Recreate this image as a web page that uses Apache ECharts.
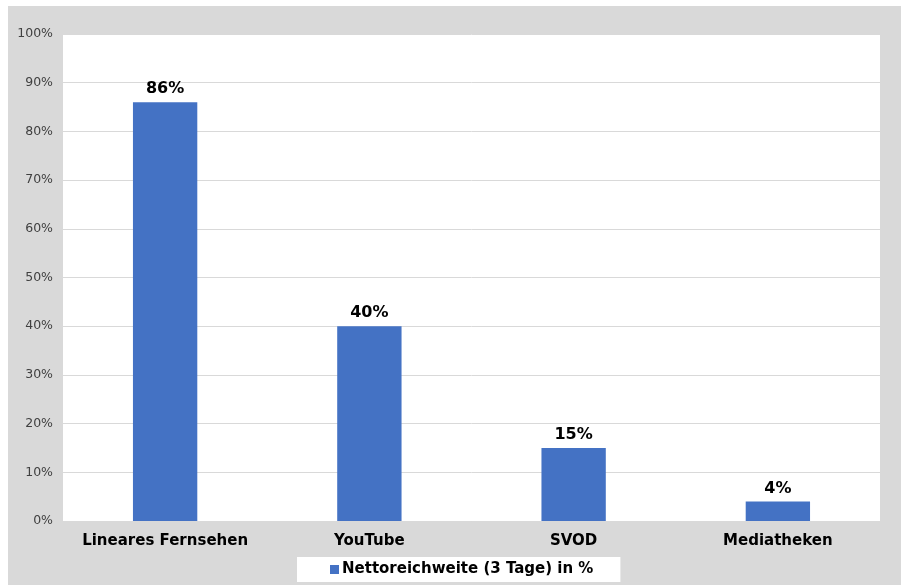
<!DOCTYPE html>
<html><head><meta charset="utf-8">
<script src="https://cdn.jsdelivr.net/npm/echarts@6/dist/echarts.min.js"></script>
<style>html,body{margin:0;padding:0;background:#fff}#c{width:901px;height:585px}</style>
</head><body><div id="c"></div>
<script>
const categories = ['Lineares Fernsehen', 'YouTube', 'SVOD', 'Mediatheken'];
const values = [86, 40, 15, 4];
const seriesName = 'Nettoreichweite (3 Tage) in %';
const font = '"DejaVu Sans", Verdana, sans-serif';
const chart = echarts.init(document.getElementById('c'));
chart.setOption({
  animation: false,
  graphic: [{type:'rect', z:-10, shape:{x:8, y:6, width:893, height:579}, style:{fill:'#d9d9d9'}}],
  grid: {left:63, right:21, top:34, bottom:64, show:true, backgroundColor:'#fff', borderWidth:0},
  legend: {
    data:[seriesName], left:297, top:557, backgroundColor:'#fff', padding:[5,27,5,33],
    itemWidth:9, itemHeight:9, icon:'rect', itemGap:4,
    textStyle:{fontFamily:font, fontWeight:'bold', fontSize:15, color:'#000', padding:[0,0,0,-2]}
  },
  xAxis: {
    type:'category', data:categories,
    axisLine:{show:true, lineStyle:{color:'#d9d9d9'}}, axisTick:{show:false},
    axisLabel:{interval:0, fontFamily:font, fontWeight:'bold', fontSize:15, color:'#000', margin:13}
  },
  yAxis: {
    type:'value', min:0, max:100, interval:10,
    axisLabel:{formatter:'{value}%', fontFamily:font, fontSize:12.5, color:'#404040', margin:10},
    splitLine:{lineStyle:{color:'#d9d9d9'}}, axisLine:{show:false}, axisTick:{show:false}
  },
  series: [{
    name:seriesName, type:'bar', data:values, barWidth:'31.5%',
    itemStyle:{color:'#4472c4'},
    label:{show:true, position:'top', formatter:'{c}%', fontFamily:font, fontWeight:'bold', fontSize:16, color:'#000', distance:5}
  }]
});
</script></body></html>
